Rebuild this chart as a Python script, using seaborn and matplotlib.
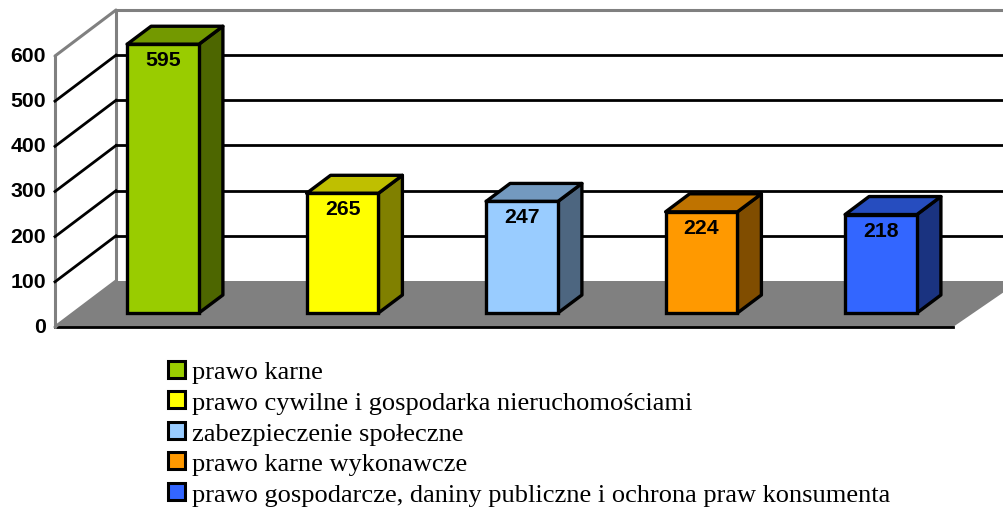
import matplotlib
matplotlib.use("Agg")
import matplotlib.pyplot as plt
import pandas as pd
import seaborn as sns
from matplotlib.patches import Patch, Polygon

categories = [
    "prawo karne",
    "prawo cywilne i gospodarka nieruchomościami",
    "zabezpieczenie społeczne",
    "prawo karne wykonawcze",
    "prawo gospodarcze, daniny publiczne i ochrona praw konsumenta",
]
values = [595, 265, 247, 224, 218]
front_colors = ["#99CC00", "#FFFF00", "#99CCFF", "#FF9900", "#3366FF"]
side_colors = ["#4D6600", "#808000", "#4D6680", "#804D00", "#1A3380"]
top_colors = ["#739900", "#BFBF00", "#7399BF", "#BF7300", "#264DBF"]
y_ticks = [0, 100, 200, 300, 400, 500, 600]

# --- pixel geometry of the fake 3d box ---
W, H = 1004, 510
px_per_unit = 0.4517
px_per_cat = 179.5
first_x, base_y = 163.0, 313.0


def px(x, y):
    return (x - first_x) / px_per_cat, (base_y - y) / px_per_unit


def val_y(v, floor_y):
    return floor_y - v * px_per_unit


fig = plt.figure(figsize=(W / 100, H / 100), dpi=100)
ax = fig.add_axes([0, 0, 1, 1])

df = pd.DataFrame({"kategoria": categories, "liczba": values})
sns.barplot(data=df, x="kategoria", y="liczba", hue="kategoria", palette=front_colors,
            width=0.4, dodge=False, legend=False, edgecolor="black", linewidth=2.4,
            saturation=1, ax=ax, zorder=5)

ax.set_xlim(px(0, 0)[0], px(W, 0)[0])
ax.set_ylim(px(0, H - 1)[1], px(0, -1)[1])
ax.axis("off")

# walls and floor
gray = "#808080"
ax.add_patch(Polygon([px(55, 327), px(116, 281), px(1020, 281), px(953, 327)], closed=True,
                     facecolor=gray, edgecolor="none", zorder=1))
ax.plot(*zip(px(55, 327), px(953, 327)), color="black", lw=2.0, zorder=2)
for pts in [[(116, 10), (1004, 10)], [(116, 10), (116, 281)], [(55, 56), (116, 10)],
            [(55, 56), (55, 327)], [(55, 327), (116, 281)]]:
    ax.plot(*zip(*[px(*p) for p in pts]), color=gray, lw=2.2, zorder=2, solid_capstyle="round")

# gridlines, tick labels
for v in y_ticks:
    if v not in (0, 600):
        ax.plot(*zip(px(116, val_y(v, 281)), px(1004, val_y(v, 281))), color="black", lw=2.0, zorder=2)
        ax.plot(*zip(px(55, val_y(v, 327)), px(116, val_y(v, 281))), color="black", lw=2.0, zorder=2)
    x_t, y_t = px(46, val_y(v, 326.5))
    ax.text(x_t, y_t, str(v), ha="right", va="center", family="Liberation Sans",
            fontweight="bold", fontsize=15.3)

# side and top faces from the bars
dx = 24 / px_per_cat
dy = 18 / px_per_unit
for bar, side, top in zip(ax.patches, side_colors, top_colors):
    x0, w, h = bar.get_x(), bar.get_width(), bar.get_height()
    x1 = x0 + w
    ax.add_patch(Polygon([(x1, 0), (x1 + dx, dy), (x1 + dx, h + dy), (x1, h)], closed=True,
                         facecolor=side, edgecolor="black", lw=2.4, joinstyle="round", zorder=4))
    ax.add_patch(Polygon([(x0, h), (x0 + dx, h + dy), (x1 + dx, h + dy), (x1, h)], closed=True,
                         facecolor=top, edgecolor="black", lw=2.4, joinstyle="round", zorder=4))

for cont in ax.containers:
    ax.bar_label(cont, padding=-18, family="Liberation Sans", fontweight="bold",
                 fontsize=15.3, zorder=6)

handles = [Patch(facecolor=c, edgecolor="black", lw=2.2) for c in front_colors]
ax.legend(handles, categories, loc="upper left", bbox_to_anchor=(168.5 / W, 1 - 361.5 / H),
          frameon=False, borderpad=0, borderaxespad=0, handlelength=0.62, handleheight=0.62,
          handletextpad=0.27, labelspacing=0.295,
          prop={"family": "Liberation Serif", "size": 19})

fig.savefig("out.png", dpi=100)
